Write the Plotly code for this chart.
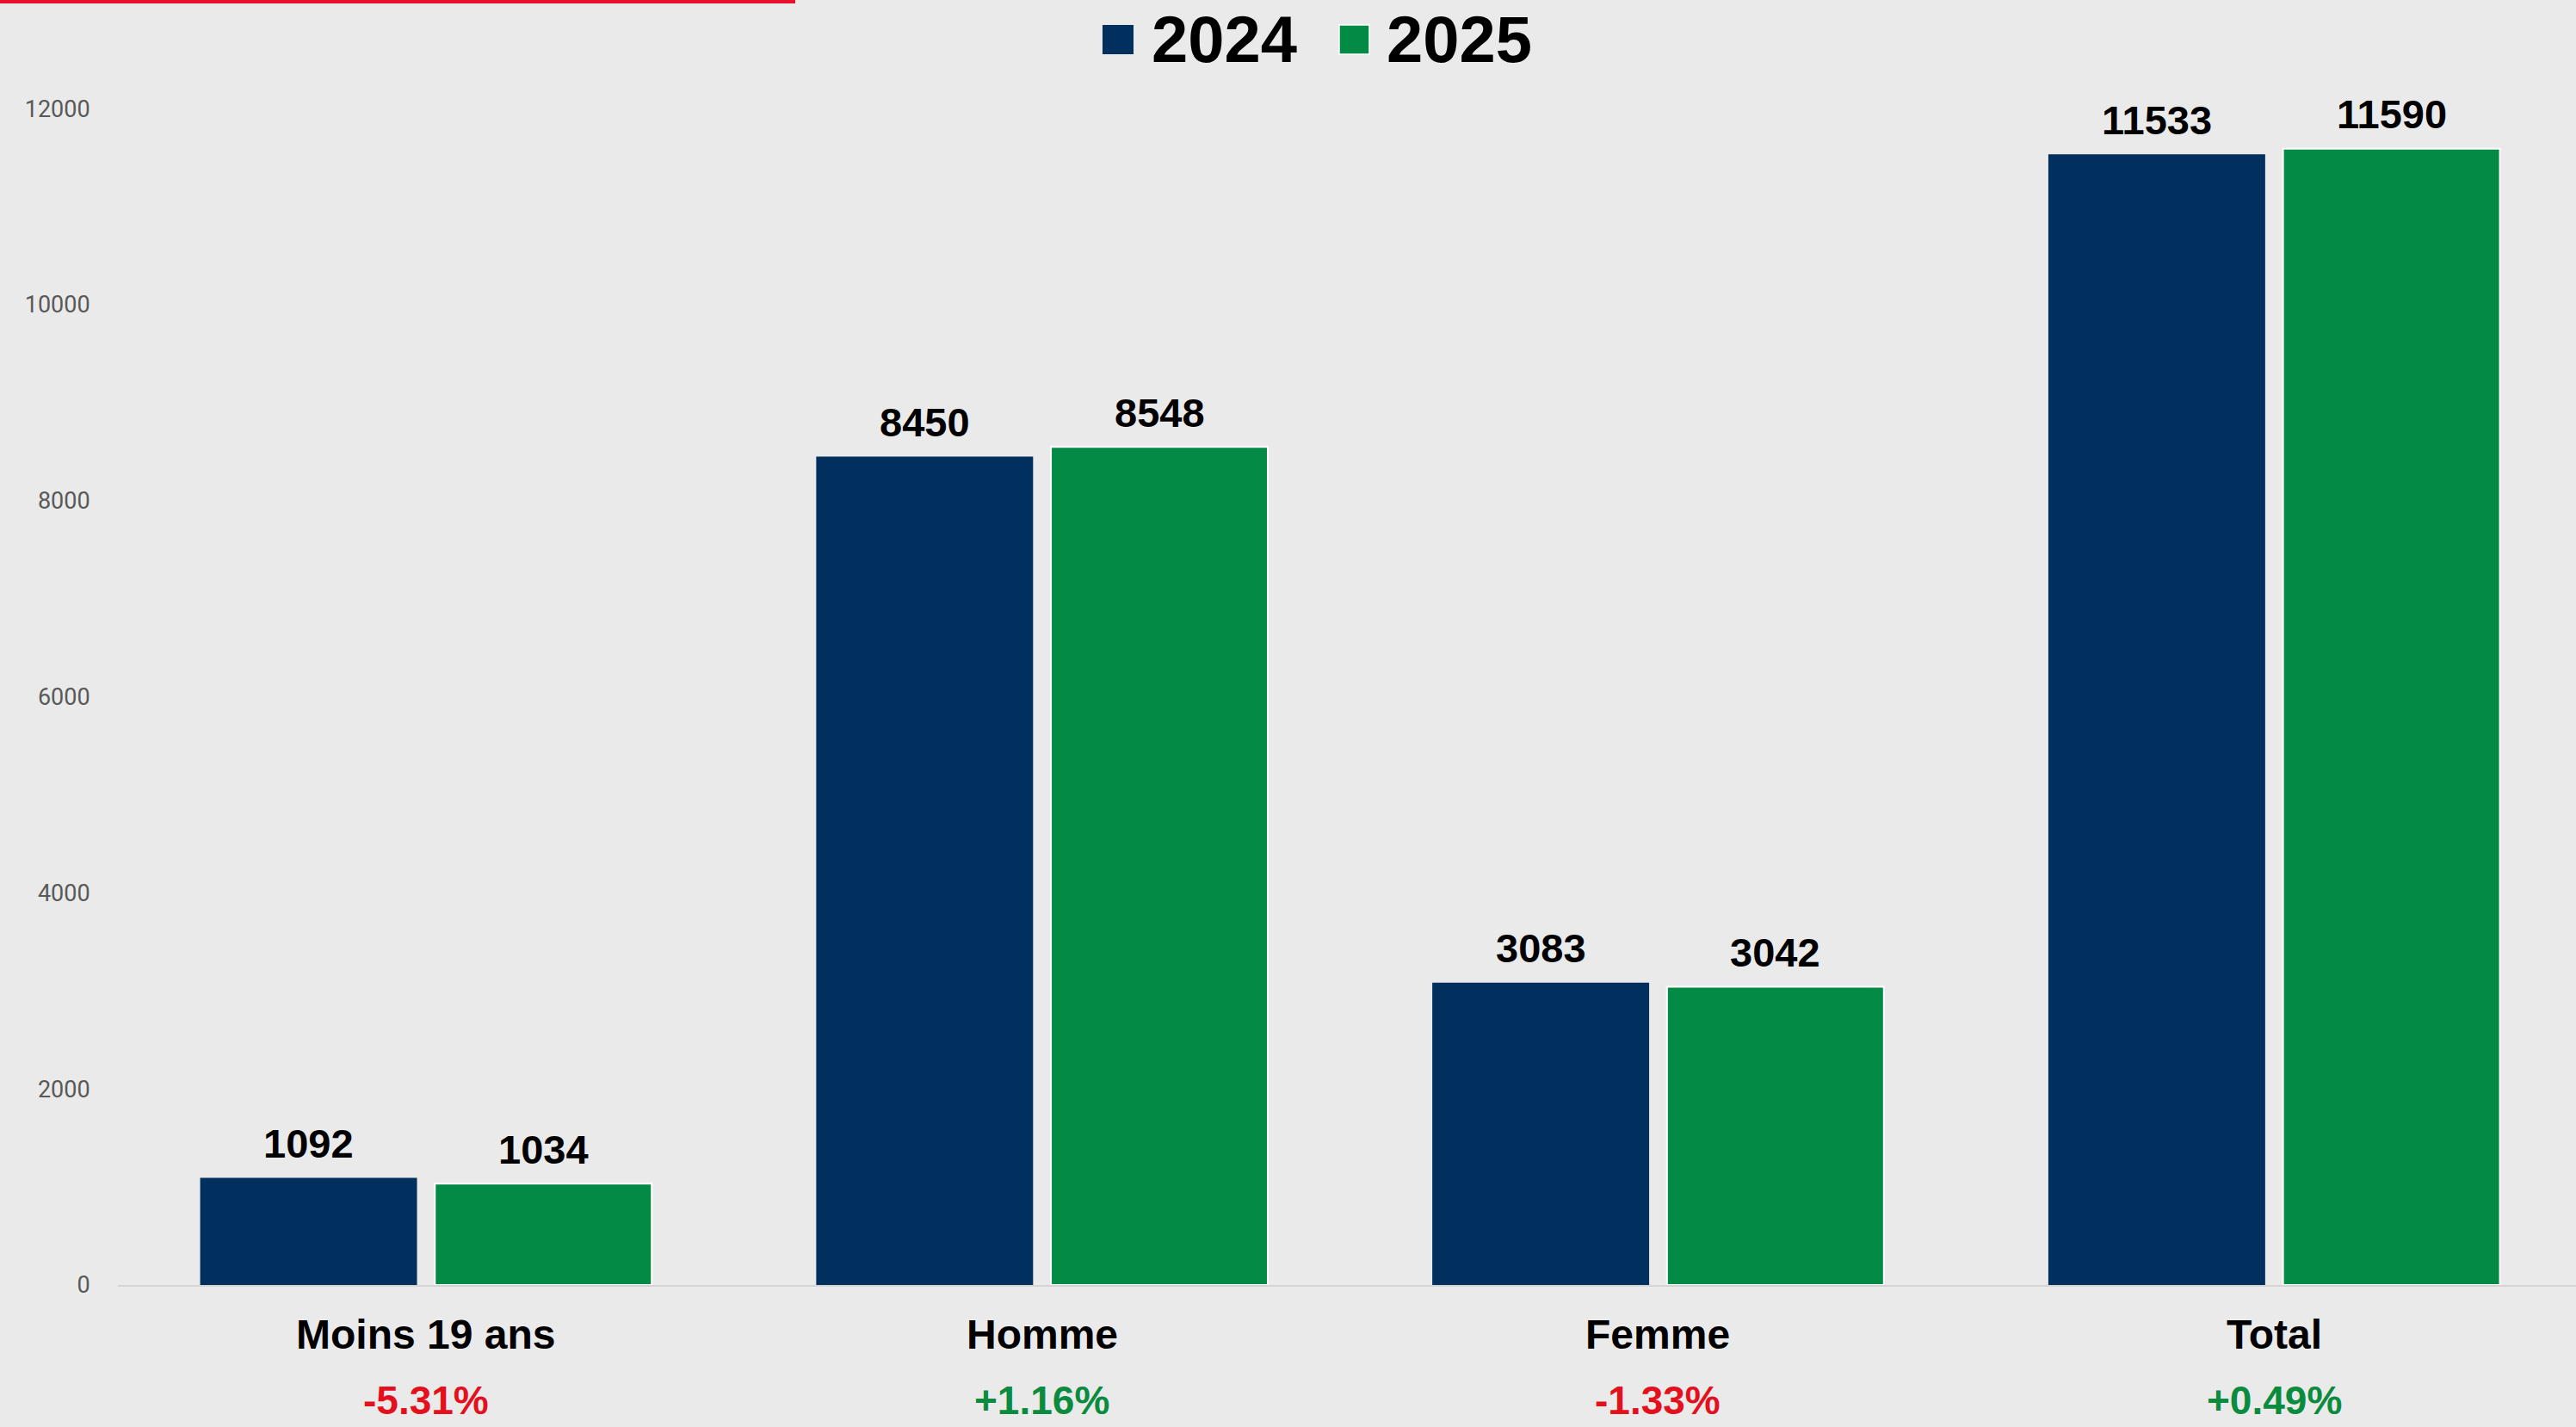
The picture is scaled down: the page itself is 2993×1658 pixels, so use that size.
import plotly.graph_objects as go

categories = ["Moins 19 ans", "Homme", "Femme", "Total"]
values_2024 = [1092, 8450, 3083, 11533]
values_2025 = [1034, 8548, 3042, 11590]
changes = ["-5.31%", "+1.16%", "-1.33%", "+0.49%"]
series_names = ["2024", "2025"]
y_ticks = [0, 2000, 4000, 6000, 8000, 10000, 12000]

NAVY = "#02305E"
GREEN = "#038B45"
RED = "#E3101D"
TXT_GREEN = "#0A8B3E"
FONT_B = "Liberation Sans Narrow, Arial Narrow, Liberation Sans, Arial, sans-serif"

W, H = 2993, 1658
ML, MR, MT, MB = 137, 0, 35, 165
PW = W - ML - MR
PH = H - MT - MB
XR = [-0.5, 3.49]
PXU = PW / (XR[1] - XR[0])

BW = 0.352
OFF = [-0.3665, 0.0145]


def px(xp):
    return (xp - ML) / PW


def py(yp):
    return (H - MB - yp) / PH


fig = go.Figure()
fig.add_trace(go.Bar(x=categories, y=values_2024, name=series_names[0],
                     width=BW, offset=OFF[0], marker=dict(color=NAVY, line=dict(width=0)),
                     showlegend=False))
fig.add_trace(go.Bar(x=categories, y=values_2025, name=series_names[1],
                     width=BW, offset=OFF[1], marker=dict(color=GREEN, line=dict(width=2, color="white")),
                     showlegend=False))

ann = []
for vals, off in ((values_2024, OFF[0]), (values_2025, OFF[1])):
    for c, v in zip(categories, vals):
        ann.append(dict(x=c, y=v, xref="x", yref="y", text=f"<b>{v}</b>", showarrow=False,
                        xshift=(off + BW / 2) * PXU, yshift=40, yanchor="middle",
                        font=dict(family=FONT_B, size=47, color="black")))
for c, ch in zip(categories, changes):
    ann.append(dict(x=c, y=0, xref="x", yref="paper", text=f"<b>{c}</b>", showarrow=False,
                    yshift=-57, yanchor="middle", font=dict(family=FONT_B, size=48, color="black")))
    ann.append(dict(x=c, y=0, xref="x", yref="paper", text=f"<b>{ch}</b>", showarrow=False,
                    yshift=-134, yanchor="middle",
                    font=dict(family=FONT_B, size=46, color=RED if ch.startswith("-") else TXT_GREEN)))

# legend (custom, large)
ann.append(dict(x=px(1336), y=py(45), xref="paper", yref="paper", text="<b>2024</b>", showarrow=False,
                xanchor="left", yanchor="middle", font=dict(family=FONT_B, size=76, color="black")))
ann.append(dict(x=px(1609), y=py(45), xref="paper", yref="paper", text="<b>2025</b>", showarrow=False,
                xanchor="left", yanchor="middle", font=dict(family=FONT_B, size=76, color="black")))

shapes = [
    dict(type="rect", xref="paper", yref="paper", x0=px(1281), x1=px(1317), y0=py(63), y1=py(29),
         fillcolor=NAVY, line=dict(width=0)),
    dict(type="rect", xref="paper", yref="paper", x0=px(1556), x1=px(1591), y0=py(63), y1=py(29),
         fillcolor=GREEN, line=dict(width=1.5, color="white")),
    dict(type="rect", xref="paper", yref="paper", x0=px(0), x1=px(924), y0=py(4), y1=py(0),
         fillcolor="#E8102A", line=dict(width=0)),
]

fig.update_layout(
    width=W, height=H,
    margin=dict(l=ML, r=MR, t=MT, b=MB, pad=0),
    paper_bgcolor="#EAEAEA",
    plot_bgcolor="rgba(0,0,0,0)",
    annotations=ann,
    shapes=shapes,
    showlegend=False,
    xaxis=dict(type="category", range=XR, showticklabels=False, showgrid=False, zeroline=False,
               showline=True, linecolor="#D4D4D4", linewidth=2, ticks=""),
    yaxis=dict(range=[0, 12800], tickvals=y_ticks, tickformat="d", showgrid=False, zeroline=False,
               showline=False, ticks="outside", ticklen=26, tickcolor="rgba(0,0,0,0)",
               tickfont=dict(family="Roboto, Liberation Sans, sans-serif", size=27, color="#595959")),
)

fig.write_html("out.html",
               config={"displayModeBar": False},
               post_script="document.body.style.margin='0';document.body.style.overflow='hidden';"
                           "document.body.style.background='#EAEAEA';")
